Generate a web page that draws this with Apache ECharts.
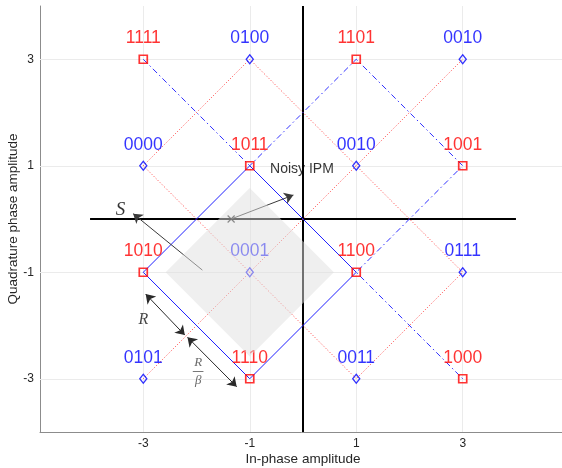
<!DOCTYPE html>
<html>
<head>
<meta charset="utf-8">
<script src="https://cdn.jsdelivr.net/npm/echarts@6/dist/echarts.min.js"></script>
<style>
html,body{margin:0;padding:0;background:#fff;}
#chart{width:562px;height:468px;}
</style>
</head>
<body>
<div id="chart"></div>
<script>
// ---- data ----
const xRange = [-4.94, 4.94];
const yRange = [-4, 4];
const xTicks = [-3, -1, 1, 3];
const yTicks = [-3, -1, 1, 3];

const redPoints = [[-3,3],[1,3],[-1,1],[3,1],[-3,-1],[1,-1],[-1,-3],[3,-3]];
const redLabels = ['1111','1101','1011','1001','1010','1100','1110','1000'];
const bluePoints = [[-1,3],[3,3],[-3,1],[1,1],[-1,-1],[3,-1],[-3,-3],[1,-3]];
const blueLabels = ['0100','0010','0000','0010','0001','0111','0101','0011'];

const blueSolidPath = [[-1,1],[1,-1],[-1,-3],[-3,-1],[-1,1]];
const blueDashPath = [[-3,3],[-1,1],[1,3],[3,1],[1,-1],[3,-3]];
const redDotPathA = [[-3,-3],[-1,-1],[1,1],[3,3]];
const redDotPathB = [[-3,1],[-1,3],[1,1],[3,-1],[1,-3],[-1,-1],[-3,1]];

const hAxisLine = [[-4,0],[4,0]];
const vAxisLine = [[0,-4],[0,4]];

const decisionRegion = [[-1,0.58],[0.58,-1],[-1,-2.58],[-2.58,-1]];
const noisyPoint = [[-1.35, 0]];

const arrowNoisy = [[-1.35,0],[-0.18,0.45]];
const arrowS = [[-1.89,-0.96],[-3.19,0.1]];
const arrowR = [[-2.22,-2.18],[-2.955,-1.41]];
const arrowRb = [[-2.17,-2.22],[-1.245,-3.15]];
const fracBar = [[-2.07,-2.86],[-1.87,-2.86]];

const annoNames = ['Noisy IPM','S','R','R','β'];
const annoPos = [[-0.02,0.94],[-3.43,0.17],[-3.0,-1.9],[-1.97,-2.69],[-1.97,-3.03]];

// ---- chart ----
const chart = echarts.init(document.getElementById('chart'), null, {renderer:'canvas'});

const gridSegs = [];
xTicks.forEach(t => gridSegs.push({coords: [[t, yRange[0]], [t, yRange[1]]]}));
yTicks.forEach(t => gridSegs.push({coords: [[xRange[0], t], [xRange[1], t]]}));

function pathSeries(data, color, type, width, z) {
  return {
    type: 'lines', coordinateSystem: 'cartesian2d', polyline: true,
    data: [{coords: data}], silent: true, z: z || 3,
    lineStyle: {color: color, width: width, type: type, opacity: 1}
  };
}

const annoStyles = [
  {fontFamily: 'Liberation Sans', fontSize: 14, color: '#000'},
  {fontFamily: 'Liberation Serif', fontStyle: 'italic', fontSize: 19, color: '#000'},
  {fontFamily: 'Liberation Serif', fontStyle: 'italic', fontSize: 16, color: '#111'},
  {fontFamily: 'Liberation Serif', fontStyle: 'italic', fontSize: 13, color: '#444'},
  {fontFamily: 'Liberation Serif', fontStyle: 'italic', fontSize: 13, color: '#444'}
];

const option = {
  animation: false,
  backgroundColor: '#fff',
  grid: {left: 40, top: 6, width: 526, height: 426, containLabel: false, outerBoundsMode: 'none'},
  xAxis: {
    type: 'value', min: xRange[0], max: xRange[1],
    name: 'In-phase amplitude', nameLocation: 'middle', nameGap: 20, nameMoveOverlap: false,
    nameTextStyle: {fontFamily: 'Liberation Sans', fontSize: 13.5, color: '#262626'},
    axisLine: {show: true, onZero: false, lineStyle: {color: '#8c8c8c', width: 1}},
    axisTick: {show: true, inside: true, length: 5, customValues: xTicks, lineStyle: {color: '#8c8c8c'}},
    axisLabel: {customValues: xTicks, fontFamily: 'Liberation Sans', fontSize: 12, color: '#262626', margin: 6},
    splitLine: {show: false}
  },
  yAxis: {
    type: 'value', min: yRange[0], max: yRange[1],
    name: 'Quadrature phase amplitude', nameLocation: 'middle', nameGap: 20, nameRotate: 90, nameMoveOverlap: false,
    nameTextStyle: {fontFamily: 'Liberation Sans', fontSize: 13.5, color: '#262626'},
    axisLine: {show: true, onZero: false, lineStyle: {color: '#8c8c8c', width: 1}},
    axisTick: {show: true, inside: true, length: 5, customValues: yTicks, lineStyle: {color: '#8c8c8c'}},
    axisLabel: {customValues: yTicks, fontFamily: 'Liberation Sans', fontSize: 12, color: '#262626', margin: 6},
    splitLine: {show: false}
  },
  series: [
    {
      type: 'lines', coordinateSystem: 'cartesian2d', z: 1, silent: true,
      lineStyle: {color: '#ebebeb', width: 1, opacity: 1},
      data: gridSegs
    },
    pathSeries(hAxisLine, '#000', 'solid', 2, 2),
    pathSeries(vAxisLine, '#000', 'solid', 2, 2),
    pathSeries(redDotPathA, '#ff4040', [1, 2], 1, 3),
    pathSeries(redDotPathB, '#ff4040', [1, 2], 1, 3),
    pathSeries(blueDashPath, '#3030ff', [6, 3, 1.5, 3], 1, 3),
    pathSeries(blueSolidPath, '#2020ff', 'solid', 1, 3),
    {
      type: 'scatter', z: 4, silent: true,
      symbol: 'rect', symbolSize: 8,
      itemStyle: {color: 'rgba(0,0,0,0)', borderColor: '#ff0000', borderWidth: 1.7},
      data: redPoints.map((p, i) => ({value: p, name: redLabels[i]})),
      label: {show: true, position: 'inside', offset: [0, -21], formatter: '{b}',
        fontFamily: 'Liberation Sans', fontSize: 17.5, color: '#ff0000'}
    },
    {
      type: 'scatter', z: 4, silent: true,
      symbol: 'diamond', symbolSize: [7, 9],
      itemStyle: {color: 'rgba(0,0,0,0)', borderColor: '#0000ff', borderWidth: 1.4},
      data: bluePoints.map((p, i) => ({value: p, name: blueLabels[i]})),
      label: {show: true, position: 'inside', offset: [0, -21], formatter: '{b}',
        fontFamily: 'Liberation Sans', fontSize: 17.5, color: '#0000ff'}
    },
    {
      type: 'scatter', z: 4, silent: true,
      symbol: 'path://M0,0L10,10M10,0L0,10', symbolSize: 7,
      itemStyle: {color: 'rgba(0,0,0,0)', borderColor: '#000', borderWidth: 1.2},
      data: noisyPoint
    },
    {
      type: 'lines', coordinateSystem: 'cartesian2d', z: 5, silent: true,
      symbol: ['none', 'arrow'], symbolSize: 9,
      lineStyle: {color: '#3a3a3a', width: 1, opacity: 1},
      data: [{coords: arrowNoisy}, {coords: arrowS}]
    },
    {
      type: 'lines', coordinateSystem: 'cartesian2d', z: 5, silent: true,
      symbol: ['arrow', 'arrow'], symbolSize: 9,
      lineStyle: {color: '#2a2a2a', width: 1, opacity: 1},
      data: [{coords: arrowR}, {coords: arrowRb}]
    },
    {
      type: 'lines', coordinateSystem: 'cartesian2d', z: 5, silent: true,
      lineStyle: {color: '#555', width: 0.8, opacity: 1},
      data: [{coords: fracBar}]
    },
    {
      type: 'scatter', z: 5, silent: true, symbolSize: 0,
      data: annoPos.map((p, i) => ({value: p, name: annoNames[i],
        label: Object.assign({show: true, position: 'inside', formatter: '{b}'}, annoStyles[i])}))
    },
    {
      type: 'custom', z: 10, silent: true,
      data: decisionRegion,
      renderItem: function (params, api) {
        if (params.dataIndex !== 0) return null;
        const pts = decisionRegion.map(p => api.coord(p));
        return {type: 'polygon', shape: {points: pts}, style: {fill: '#e0e0e0', opacity: 0.5}};
      }
    }
  ]
};
chart.setOption(option);
</script>
</body>
</html>
